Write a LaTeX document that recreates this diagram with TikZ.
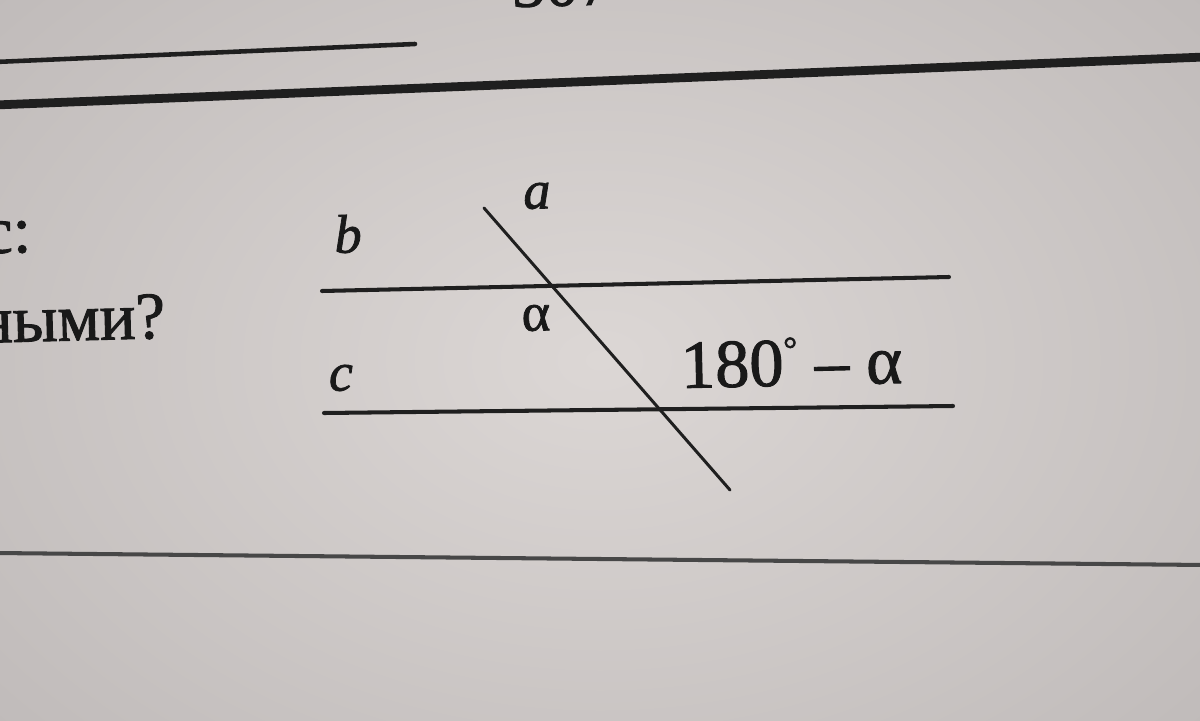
\documentclass[tikz,border=0pt]{standalone}
\usepackage{fontspec}
\setmainfont{Liberation Serif}[RawFeature={embolden=1.4}]
\begin{document}
\begin{tikzpicture}[x=0.02cm,y=-0.02cm,
  ink/.style={draw=black!88,line cap=round},
  rule/.style={ink,line width=2.6pt},
  thickrule/.style={ink,line width=5pt},
  geo/.style={ink,line width=2.3pt},
  trans/.style={ink,line width=1.7pt},
  lbl/.style={inner sep=0pt,text=black!90,rotate=1.3},
  body/.style={inner sep=0pt,text=black!90,font=\fontsize{38}{40}\selectfont,rotate=1.5}]
\useasboundingbox (0,0) rectangle (1200,720);
\shade[inner color={rgb,255:red,220;green,215;blue,213},outer color={rgb,255:red,192;green,187;blue,186}] (-200,-200) rectangle (1400,920);
% page rules
\coordinate (r1a) at (-5,62);  \coordinate (r1b) at (415,44);
\coordinate (r2a) at (-5,105); \coordinate (r2b) at (1205,57);
\coordinate (r3a) at (-5,553); \coordinate (r3b) at (1205,565);
\draw[rule] (r1a) -- (r1b);
\draw[thickrule] (r2a) -- (r2b);
\draw[rule,draw=black!72,line width=2.3pt] (r3a) -- (r3b);
% partial text at top
\node[body,anchor=base west] (top) at (512,7) {307};
% left text
\node[body,anchor=base east] (t1) at (32,252) {с:};
\node[body,anchor=base east] (t2) at (166,338) {ными?};
% figure
\coordinate (b1) at (322,291); \coordinate (b2) at (949,277);
\coordinate (c1) at (324,413); \coordinate (c2) at (953,406);
\coordinate (a1) at (484,208); \coordinate (a2) at (730,490);
\draw[geo] (b1) -- (b2);
\draw[geo] (c1) -- (c2);
\draw[trans] (a1) -- (a2);
\node[lbl,font=\fontsize{31}{33}\selectfont\itshape] (la) at (537,196) {a};
\node[lbl,font=\fontsize{31}{33}\selectfont\itshape] (lb) at (348,234) {b};
\node[lbl,font=\fontsize{31}{33}\selectfont\itshape] (lc) at (341,378) {c};
\node[lbl,font=\fontsize{31}{33}\selectfont] (lalpha) at (536,318) {α};
\node[lbl,anchor=base west,font=\fontsize{39}{41}\selectfont] (lang) at (681,388) {180\raisebox{0.36em}{\fontsize{20}{20}\selectfont°} – α};
\end{tikzpicture}
\end{document}
